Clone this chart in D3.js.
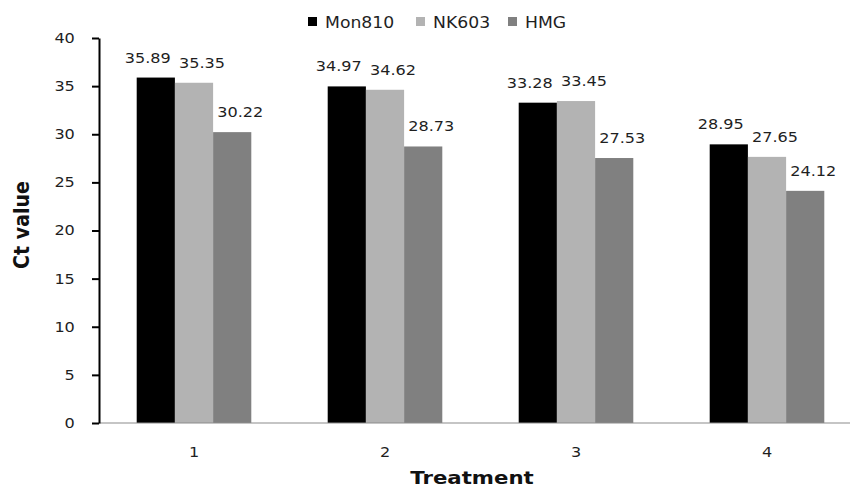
<!DOCTYPE html>
<html>
<head>
<meta charset="utf-8">
<script src="https://cdn.jsdelivr.net/npm/d3@7/dist/d3.min.js"></script>
<style>
  html, body { margin: 0; padding: 0; background: #fff; }
  svg { display: block; font-family: "DejaVu Sans", Verdana, sans-serif; }
</style>
</head>
<body>
<svg id="chart" width="850" height="488"></svg>
<script>
// Ct values per treatment for each maize event
const treatments = ["1", "2", "3", "4"];
const seriesNames = ["Mon810", "NK603", "HMG"];
const mon810 = [35.89, 34.97, 33.28, 28.95];
const nk603 = [35.35, 34.62, 33.45, 27.65];
const hmg = [30.22, 28.73, 27.53, 24.12];
const yTicks = [0, 5, 10, 15, 20, 25, 30, 35, 40];
const colors = ["#000000", "#b3b3b3", "#808080"];

const seriesValues = [mon810, nk603, hmg];
const rows = treatments.map((t, i) => ({
  treatment: t,
  values: seriesNames.map((s, j) => ({ series: s, value: seriesValues[j][i] }))
}));

const svg = d3.select("#chart");
const stretch = 1.15; // glyphs are drawn slightly wide
const textColor = "#1f1f1f";
// horizontal nudge of value labels per series so neighbours do not collide
const labelNudge = d3.scaleOrdinal().domain(seriesNames).range([-8, 8, 8]);

const x0 = d3.scaleBand().domain(treatments).range([98.5, 862.5])
  .paddingInner(0.4).paddingOuter(0.2);
const x1 = d3.scaleBand().domain(seriesNames).range([0, x0.bandwidth()]);
const y = d3.scaleLinear().domain([0, 40]).range([423, 38]);
const color = d3.scaleOrdinal().domain(seriesNames).range(colors);

// bars
const groups = svg.append("g").selectAll("g").data(rows).join("g")
  .attr("transform", d => `translate(${x0(d.treatment)},0)`);

groups.selectAll("rect").data(d => d.values).join("rect")
  .attr("x", d => x1(d.series))
  .attr("y", d => y(d.value))
  .attr("width", x1.bandwidth())
  .attr("height", d => y(0) - y(d.value))
  .attr("fill", d => color(d.series));

// value labels above bars
groups.selectAll("text").data(d => d.values).join("text")
  .attr("transform", d => `translate(${x1(d.series) + x1.bandwidth() / 2 + labelNudge(d.series)},${y(d.value) - 15}) scale(${stretch},1)`)
  .attr("text-anchor", "middle")
  .attr("font-size", 14)
  .attr("fill", textColor)
  .text(d => d.value.toFixed(2));

// x axis baseline
svg.append("line")
  .attr("x1", 99).attr("x2", 850)
  .attr("y1", y(0)).attr("y2", y(0))
  .attr("stroke", "#8c8c8c").attr("stroke-width", 1.2);

// x category labels
const xAxis = svg.append("g")
  .attr("transform", `translate(0,${y(0)})`)
  .call(d3.axisBottom(x0).tickSize(0).tickPadding(0));
xAxis.select(".domain").remove();
xAxis.selectAll("text")
  .attr("y", 0).attr("dy", null)
  .attr("transform", `translate(0,34) scale(${stretch},1)`)
  .attr("font-size", 14)
  .attr("font-family", "DejaVu Sans")
  .attr("fill", textColor);

// y axis
const yAxis = svg.append("g")
  .attr("transform", "translate(99,0)")
  .call(d3.axisLeft(y).tickValues(yTicks).tickSize(7).tickPadding(14).tickSizeOuter(0));
yAxis.select(".domain").attr("stroke", "#000").attr("stroke-width", 2);
yAxis.selectAll(".tick line").attr("stroke", "#000").attr("stroke-width", 2);
yAxis.selectAll("text")
  .attr("transform", `scale(${stretch},1)`)
  .attr("font-size", 14)
  .attr("font-family", "DejaVu Sans")
  .attr("fill", textColor);

// axis titles
svg.append("text")
  .attr("transform", `translate(472,484) scale(${stretch},1)`)
  .attr("text-anchor", "middle")
  .attr("font-size", 18.5)
  .attr("font-weight", "bold")
  .attr("fill", "#111")
  .text("Treatment");

svg.append("text")
  .attr("transform", `translate(29,225) scale(${stretch},1) rotate(-90)`)
  .attr("text-anchor", "middle")
  .attr("font-size", 19)
  .attr("font-weight", "bold")
  .attr("fill", "#111")
  .text("Ct value");

// legend
const legendX = [308, 416, 508];
const legend = svg.append("g").selectAll("g").data(seriesNames).join("g")
  .attr("transform", (d, i) => `translate(${legendX[i]},0)`);
legend.append("rect")
  .attr("x", 0).attr("y", 17).attr("width", 9).attr("height", 9)
  .attr("fill", d => color(d));
legend.append("text")
  .attr("transform", `translate(17,27.5) scale(${stretch},1)`)
  .attr("font-size", 15)
  .attr("fill", textColor)
  .text(d => d);
</script>
</body>
</html>
